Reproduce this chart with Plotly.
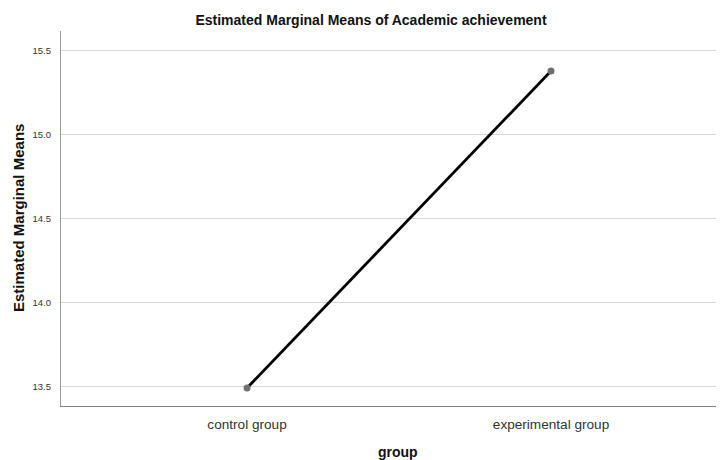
import plotly.graph_objects as go

groups = ["control group", "experimental group"]
means = [13.49, 15.38]
y_ticks = [13.5, 14.0, 14.5, 15.0, 15.5]
y_tick_labels = ["13.5", "14.0", "14.5", "15.0", "15.5"]

# The page body has an 8px margin, so the figure is sized to fill the rest.
OFF = 8
W, H = 724 - OFF, 460 - OFF
L, R, T = 61 - OFF, 0, 31 - OFF
B = H - (406 - OFF)
pw = W - L - R
ph = H - T - B


def px(xp):
    return (xp - OFF - L) / pw


def py(yp):
    return (H - B - (yp - OFF)) / ph


fig = go.Figure()
fig.add_trace(go.Scatter(
    x=[0, 1], y=means, mode="lines",
    line=dict(color="#000000", width=2.8), hoverinfo="skip", showlegend=False))
fig.add_trace(go.Scatter(
    x=[0, 1], y=means, mode="markers",
    marker=dict(color="#707070", size=7), showlegend=False))

fig.update_layout(
    width=W, height=H,
    margin=dict(l=L, r=R, t=T, b=B, pad=0),
    paper_bgcolor="white", plot_bgcolor="white",
    font=dict(family="Liberation Sans, Arial, sans-serif", color="#222222"),
    showlegend=False,
    title=dict(text="<b>Estimated Marginal Means of Academic achievement</b>",
               font=dict(size=14, color="#111111"),
               x=(371 - OFF) / W, xanchor="center", xref="container",
               y=1 - (20 - OFF) / H, yanchor="middle", yref="container"),
)

fig.update_xaxes(
    range=[-0.612, 1.569],
    tickvals=[0, 1], ticktext=groups,
    showgrid=False, zeroline=False,
    showline=True, linecolor="#7f7f7f", linewidth=1.3,
    ticks="", tickfont=dict(size=13.6, color="#333333"),
    ticklabelstandoff=6,
)
fig.update_yaxes(
    range=[13.3825, 15.619],
    tickvals=y_ticks, ticktext=y_tick_labels,
    showgrid=True, gridcolor="#d6d6d6", gridwidth=1.3,
    zeroline=False,
    showline=True, linecolor="#9a9a9a", linewidth=1.3,
    ticks="", tickfont=dict(size=9.5, color="#333333"),
    ticklabelstandoff=7,
)

fig.add_annotation(
    text="<b>Estimated Marginal Means</b>", textangle=-90,
    xref="paper", yref="paper",
    x=px(18), y=py(218),
    xanchor="center", yanchor="middle", showarrow=False,
    font=dict(size=15, color="#111111"))
fig.add_annotation(
    text="<b>group</b>",
    xref="paper", yref="paper",
    x=px(398), y=py(452),
    xanchor="center", yanchor="middle", showarrow=False,
    font=dict(size=14, color="#111111"))

fig.write_html("out.html")
